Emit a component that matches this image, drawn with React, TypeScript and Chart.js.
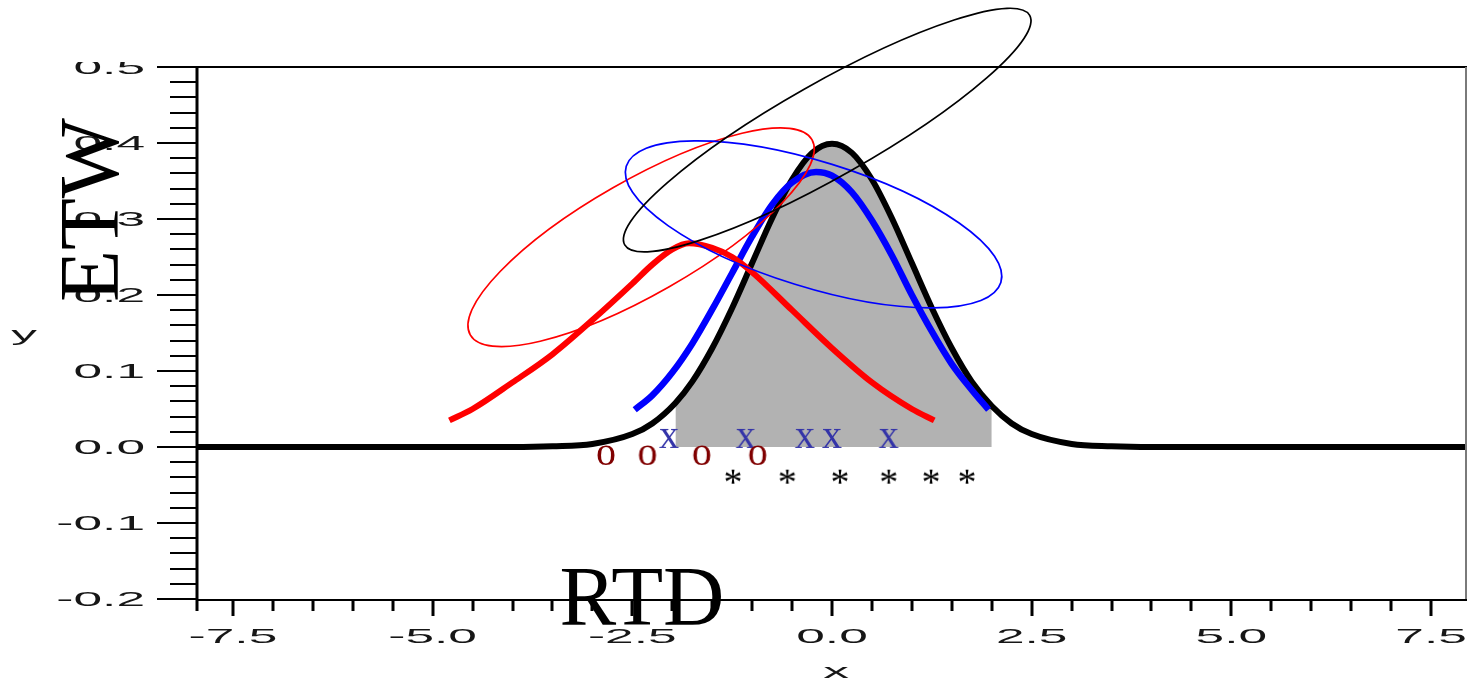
import React, { useEffect, useRef } from "react";
import { Chart, registerables } from "chart.js";

Chart.register(...registerables);

// ---------- data ----------
const blackX = [-7.95, -4, -3.5, -3, -2.5, -2.25, -1.96, -1.75, -1.5, -1.25, -1, -0.75, -0.5, -0.25, 0, 0.25, 0.5, 0.75, 1, 1.25, 1.5, 1.75, 2.0, 2.25, 2.5, 3, 3.5, 4, 7.95];
const blackY = [0, 0.0001, 0.001, 0.004, 0.017, 0.031, 0.058, 0.086, 0.13, 0.183, 0.242, 0.301, 0.352, 0.387, 0.399, 0.387, 0.352, 0.301, 0.242, 0.183, 0.13, 0.086, 0.054, 0.031, 0.017, 0.004, 0.001, 0.0001, 0];

const blueX = [-2.47, -2.25, -2, -1.75, -1.5, -1.25, -1, -0.75, -0.5, -0.2, 0, 0.25, 0.5, 0.75, 1, 1.25, 1.5, 1.75, 1.96];
const blueY = [0.049, 0.068, 0.098, 0.136, 0.181, 0.229, 0.277, 0.319, 0.348, 0.362, 0.357, 0.335, 0.298, 0.252, 0.2, 0.152, 0.109, 0.075, 0.049];

const redX = [-4.79, -4.5, -4, -3.5, -3, -2.5, -2.25, -2, -1.79, -1.5, -1.25, -1, -0.5, 0, 0.5, 1, 1.28];
const redY = [0.035, 0.05, 0.085, 0.122, 0.167, 0.215, 0.24, 0.26, 0.268, 0.262, 0.25, 0.23, 0.18, 0.13, 0.085, 0.05, 0.035];

const grayStart = -1.96;
const grayEnd = 2.0;

const oMarkX = [-2.83, -2.31, -1.63, -0.93];
const oMarkY = [-0.0105, -0.0105, -0.0105, -0.0105];
const xMarkX = [-2.04, -1.08, -0.34, 0.0, 0.71];
const xMarkY = [0.012, 0.012, 0.012, 0.012, 0.012];
const starMarkX = [-1.24, -0.56, 0.1, 0.71, 1.24, 1.69];
const starMarkY = [-0.039, -0.039, -0.039, -0.039, -0.039, -0.039];

// ellipses: centre and two conjugate semi-axis vectors, in data units
const ellipseCx = [-2.39, -0.231, -0.06];
const ellipseCy = [0.276, 0.293, 0.417];
const ellipseAx = [2.139, 2.345, 2.535];
const ellipseAy = [0.1284, -0.0765, 0.151];
const ellipseBx = [0.3525, -0.2325, 0.289];
const ellipseBy = [-0.0651, -0.0789, -0.0538];
const ellipseColors = ["#ff0000", "#0000ff", "#000000"];

const xTickValues = [-7.5, -5, -2.5, 0, 2.5, 5, 7.5];
const xTickLabels = ["-7.5", "-5.0", "-2.5", "0.0", "2.5", "5.0", "7.5"];
const yTickValues = [-0.2, -0.1, 0, 0.1, 0.2, 0.3, 0.4, 0.5];
const yTickLabels = ["-0.2", "-0.1", "0.0", "0.1", "0.2", "0.3", "0.4", "0.5"];

const X_MIN = -7.95;
const X_MAX = 7.95;
const Y_MIN = -0.2;
const Y_MAX = 0.5;

// ---------- helpers ----------
function zip(xs: number[], ys: number[]) {
  return xs.map((x, i) => ({ x, y: ys[i] }));
}

function glyph(ch: string, color: string, size: number): HTMLCanvasElement {
  const c = document.createElement("canvas");
  const S = 52;
  c.width = S;
  c.height = S;
  const g = c.getContext("2d")!;
  g.font = `${size}px "Liberation Serif", "Times New Roman", serif`;
  g.fillStyle = color;
  g.textAlign = "left";
  g.textBaseline = "alphabetic";
  const m = g.measureText(ch);
  const inkW = m.actualBoundingBoxLeft + m.actualBoundingBoxRight;
  const inkH = m.actualBoundingBoxAscent + m.actualBoundingBoxDescent;
  const x = (S - inkW) / 2 + m.actualBoundingBoxLeft;
  const y = (S - inkH) / 2 + m.actualBoundingBoxAscent;
  g.fillText(ch, x, y);
  return c;
}

const SANS = '"Liberation Sans", Arial, sans-serif';
const SERIF = '"Liberation Serif", "Times New Roman", serif';
const STRETCH = 2.45;

const decorPlugin = {
  id: "decor",
  afterDatasetsDraw(chart: any) {
    const ctx: CanvasRenderingContext2D = chart.ctx;
    const xs = chart.scales.x;
    const ys = chart.scales.y;
    for (let i = 0; i < ellipseCx.length; i++) {
      const pcx = xs.getPixelForValue(ellipseCx[i]);
      const pcy = ys.getPixelForValue(ellipseCy[i]);
      const ax = xs.getPixelForValue(ellipseCx[i] + ellipseAx[i]) - pcx;
      const ay = ys.getPixelForValue(ellipseCy[i] + ellipseAy[i]) - pcy;
      const bx = xs.getPixelForValue(ellipseCx[i] + ellipseBx[i]) - pcx;
      const by = ys.getPixelForValue(ellipseCy[i] + ellipseBy[i]) - pcy;
      ctx.save();
      ctx.beginPath();
      ctx.transform(ax, ay, bx, by, pcx, pcy);
      ctx.arc(0, 0, 1, 0, Math.PI * 2);
      ctx.restore();
      ctx.save();
      ctx.strokeStyle = ellipseColors[i];
      ctx.lineWidth = 1.7;
      ctx.stroke();
      ctx.restore();
    }
  },
  afterDraw(chart: any) {
    const ctx: CanvasRenderingContext2D = chart.ctx;
    const xs = chart.scales.x;
    const ys = chart.scales.y;
    const { left, right, top, bottom } = chart.chartArea;
    ctx.save();
    ctx.lineCap = "butt";
    // frame
    ctx.strokeStyle = "#000";
    ctx.lineWidth = 2;
    ctx.beginPath();
    ctx.moveTo(left, top);
    ctx.lineTo(right, top);
    ctx.stroke();
    ctx.beginPath();
    ctx.moveTo(left, bottom + 1);
    ctx.lineTo(right, bottom + 1);
    ctx.stroke();
    ctx.strokeStyle = "#7a7a7a";
    ctx.beginPath();
    ctx.moveTo(right - 1, top);
    ctx.lineTo(right - 1, bottom);
    ctx.stroke();
    ctx.strokeStyle = "#000";
    ctx.lineWidth = 3;
    ctx.beginPath();
    ctx.moveTo(left, top);
    ctx.lineTo(left, bottom + 12);
    ctx.stroke();

    // y ticks
    ctx.lineWidth = 2;
    for (let i = -10; i <= 25; i++) {
      const v = i * 0.02;
      const py = Math.round(ys.getPixelForValue(v));
      const len = i % 5 === 0 ? 40 : 27;
      ctx.beginPath();
      ctx.moveTo(left - len, py);
      ctx.lineTo(left, py);
      ctx.stroke();
    }
    // x ticks
    ctx.lineWidth = 3;
    for (let i = -15; i <= 15; i++) {
      const v = i * 0.5;
      if (v < X_MIN || v > X_MAX) continue;
      const px = Math.round(xs.getPixelForValue(v));
      const len = i % 5 === 0 ? 16 : 11;
      ctx.beginPath();
      ctx.moveTo(px, bottom + 1);
      ctx.lineTo(px, bottom + 1 + len);
      ctx.stroke();
    }

    // tick labels (horizontally stretched)
    ctx.fillStyle = "#161616";
    ctx.font = `21px ${SANS}`;
    ctx.save();
    ctx.beginPath();
    ctx.rect(0, top - 5, left, chart.height);
    ctx.clip();
    yTickValues.forEach((v, i) => {
      const py = ys.getPixelForValue(v);
      ctx.save();
      ctx.translate(left - 52, py + 1);
      ctx.scale(STRETCH, 1);
      ctx.textAlign = "right";
      ctx.textBaseline = "middle";
      ctx.fillText(yTickLabels[i], 0, 0);
      ctx.restore();
    });
    ctx.restore();
    xTickValues.forEach((v, i) => {
      const px = xs.getPixelForValue(v);
      ctx.save();
      ctx.translate(px, bottom + 38);
      ctx.scale(STRETCH, 1);
      ctx.textAlign = "center";
      ctx.textBaseline = "middle";
      ctx.fillText(xTickLabels[i], 0, 0);
      ctx.restore();
    });
    // axis titles
    ctx.save();
    ctx.translate((left + right) / 2 + 4, bottom + 73);
    ctx.scale(STRETCH, 1);
    ctx.textAlign = "center";
    ctx.textBaseline = "middle";
    ctx.fillText("x", 0, 0);
    ctx.restore();
    ctx.save();
    ctx.translate(24, (top + bottom) / 2 + 2);
    ctx.scale(STRETCH, 1);
    ctx.textAlign = "center";
    ctx.textBaseline = "middle";
    ctx.fillText("y", 0, 0);
    ctx.restore();

    // big overlay labels
    ctx.fillStyle = "#000";
    ctx.font = `85px ${SERIF}`;
    ctx.textAlign = "center";
    ctx.textBaseline = "alphabetic";
    ctx.fillText("RTD", 642, 625);
    ctx.save();
    ctx.translate(118, 210);
    ctx.rotate(-Math.PI / 2);
    ctx.fillText("ETW", 0, 0);
    ctx.restore();

    ctx.restore();
  },
};

export default function App() {
  const canvasRef = useRef<HTMLCanvasElement | null>(null);

  useEffect(() => {
    document.body.style.margin = "0";
    const canvas = canvasRef.current;
    if (!canvas) return;

    const blackPts = zip(blackX, blackY);
    const grayPts = blackPts.filter((p) => p.x >= grayStart && p.x <= grayEnd);

    const chart = new Chart(canvas, {
      type: "line",
      data: {
        datasets: [
          {
            label: "shade",
            data: grayPts,
            borderWidth: 0,
            borderColor: "rgba(0,0,0,0)",
            backgroundColor: "#b2b2b2",
            fill: "origin",
            pointRadius: 0,
            cubicInterpolationMode: "monotone",
            order: 10,
          } as any,
          {
            label: "black",
            data: blackPts,
            borderColor: "#000000",
            borderWidth: 6,
            pointRadius: 0,
            fill: false,
            cubicInterpolationMode: "monotone",
            order: 6,
          },
          {
            label: "blue",
            data: zip(blueX, blueY),
            borderColor: "#0000ff",
            borderWidth: 6.5,
            pointRadius: 0,
            fill: false,
            cubicInterpolationMode: "monotone",
            order: 5,
          },
          {
            label: "red",
            data: zip(redX, redY),
            borderColor: "#ff0000",
            borderWidth: 6,
            pointRadius: 0,
            fill: false,
            cubicInterpolationMode: "monotone",
            order: 4,
          },
          {
            type: "scatter",
            label: "o",
            data: zip(oMarkX, oMarkY),
            pointStyle: glyph("o", "#800000", 40),
            showLine: false,
            order: 1,
          } as any,
          {
            type: "scatter",
            label: "x",
            data: zip(xMarkX, xMarkY),
            pointStyle: glyph("x", "#3333a8", 40),
            showLine: false,
            order: 1,
          } as any,
          {
            type: "scatter",
            label: "*",
            data: zip(starMarkX, starMarkY),
            pointStyle: glyph("*", "#000000", 38),
            showLine: false,
            order: 1,
          } as any,
        ],
      },
      options: {
        animation: false,
        responsive: false,
        devicePixelRatio: 1,
        events: [],
        layout: { padding: { left: 0, right: 2, top: 67, bottom: 0 } },
        plugins: {
          legend: { display: false },
          title: { display: false },
          tooltip: { enabled: false },
        },
        scales: {
          x: {
            type: "linear",
            min: X_MIN,
            max: X_MAX,
            grid: { display: false },
            border: { display: false },
            ticks: { display: false },
            afterFit: (s: any) => {
              s.height = 84;
            },
          },
          y: {
            type: "linear",
            min: Y_MIN,
            max: Y_MAX,
            grid: { display: false },
            border: { display: false },
            ticks: { display: false },
            afterFit: (s: any) => {
              s.width = 197;
            },
          },
        },
      } as any,
      plugins: [decorPlugin],
    });

    return () => chart.destroy();
  }, []);

  return (
    <div style={{ width: 1472, height: 683, position: "relative", background: "#fff" }}>
      <canvas ref={canvasRef} width={1472} height={683} style={{ display: "block" }} />
    </div>
  );
}
